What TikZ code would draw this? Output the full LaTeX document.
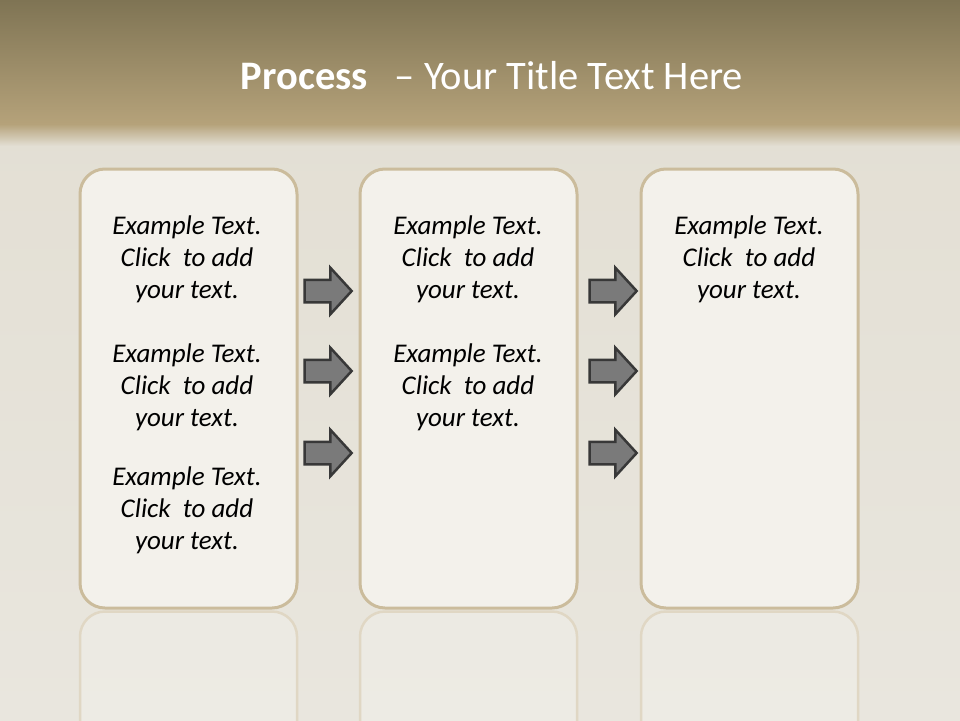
\documentclass[tikz,border=0pt]{standalone}
\usepackage{fontspec}
\setmainfont{Carlito}
\usetikzlibrary{shapes.arrows,positioning}
\definecolor{band}{HTML}{7F7454}
\definecolor{bandlow}{HTML}{B5A27A}
\definecolor{linen}{HTML}{E3DFD4}
\definecolor{linenlow}{HTML}{E9E6DE}
\definecolor{edge}{HTML}{CBBC9C}
\definecolor{panel}{HTML}{F3F1EB}
\definecolor{arrfill}{HTML}{7A7A7A}
\definecolor{arrdraw}{HTML}{383838}

\begin{document}
\begin{tikzpicture}[x=1pt,y=-1pt,
  column/.style={draw=edge,line width=3pt,rounded corners=25pt,fill=panel,
    minimum width=217pt,minimum height=439pt,inner sep=0pt},
  mirror/.style={draw=edge!60,line width=2.5pt,rounded corners=25pt,fill=white,fill opacity=.2,
    minimum width=217pt,minimum height=439pt,inner sep=0pt},
  item/.style={align=center,font=\fontsize{27}{32}\selectfont\itshape,text=black,inner sep=0pt},
  blockarr/.style={single arrow,draw=arrdraw,line width=2.5pt,fill=arrfill,
    minimum height=47pt,inner xsep=0pt,inner ysep=10pt,single arrow head extend=12pt,
    single arrow tip angle=95}]
  % background
  \clip (0,0) rectangle (960,720);
  \shade[top color=linen,bottom color=linenlow] (0,120) rectangle (960,720);
  \shade[top color=band,bottom color=bandlow] (0,0) rectangle (960,124);
  \shade[top color=bandlow,bottom color=linen] (0,124) rectangle (960,146);
  \node[text=white,font=\fontsize{40.5}{46}\selectfont] (title) at (492,76)
    {\textbf{Process}\enspace\,-- Your Title Text Here};
  % reflections
  \node[mirror] (m1) at (188.5,831) {};
  \node[mirror] (m2) at (468.5,831) {};
  \node[mirror] (m3) at (749.5,831) {};
  % columns
  \node[column] (c1) at (188.5,388.5) {};
  \node[column] (c2) at (468.5,388.5) {};
  \node[column] (c3) at (749.5,388.5) {};
  % texts
  \node[item] (t11) at (187,259) {Example Text.\\Click\ \ to add\\your text.};
  \node[item] (t12) at (187,387) {Example Text.\\Click\ \ to add\\your text.};
  \node[item] (t13) at (187,510) {Example Text.\\Click\ \ to add\\your text.};
  \node[item] (t21) at (468,259) {Example Text.\\Click\ \ to add\\your text.};
  \node[item] (t22) at (468,387) {Example Text.\\Click\ \ to add\\your text.};
  \node[item] (t31) at (749,259) {Example Text.\\Click\ \ to add\\your text.};
  % arrows
  \node[blockarr] (a11) at (323,291) {};
  \node[blockarr] (a12) at (323,371) {};
  \node[blockarr] (a13) at (323,453) {};
  \node[blockarr] (a21) at (608,291) {};
  \node[blockarr] (a22) at (608,371) {};
  \node[blockarr] (a23) at (608,453) {};
\end{tikzpicture}
\end{document}
